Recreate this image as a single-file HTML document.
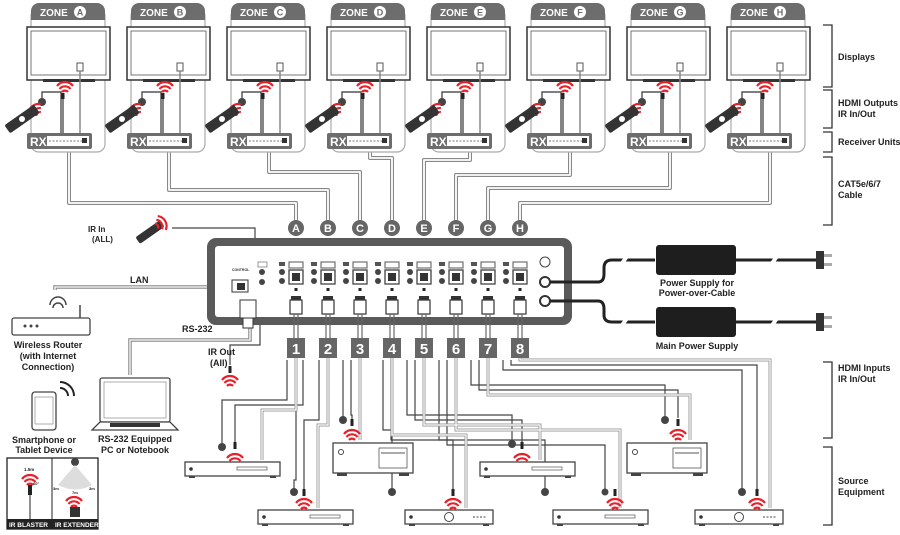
<!DOCTYPE html>
<html><head><meta charset="utf-8"><style>
html,body{margin:0;padding:0;background:#fff}
svg{display:block;font-family:"Liberation Sans",sans-serif;font-weight:bold}
</style></head><body>
<svg width="900" height="535" viewBox="0 0 900 535" xmlns="http://www.w3.org/2000/svg">
<defs>
<g id="wifi" fill="none" stroke="#e8202a" stroke-width="2.2">
<path d="M-8,-2 A10,10 0 0 1 8,-2"/><path d="M-5.5,1 A7,7 0 0 1 5.5,1"/><path d="M-3,4 A4,4 0 0 1 3,4"/>
</g>
<g id="zone">
<rect x="31" y="8" width="74" height="144" rx="8" fill="#fff" stroke="#aaa" stroke-width="1.2"/>
<path d="M31,20 V11 a8,8 0 0 1 8,-8 H97 a8,8 0 0 1 8,8 V20 Z" fill="#6d6d6d"/>
<rect x="27" y="27" width="83" height="53" fill="#fff" stroke="#333" stroke-width="1.5"/>
<rect x="31" y="31" width="75" height="44" fill="#fff" stroke="#555" stroke-width="0.8"/>
<rect x="43" y="79" width="52" height="3" fill="#333"/>
<rect x="77" y="63" width="6" height="8" fill="#fff" stroke="#555"/>
<line x1="80" y1="71" x2="80" y2="135" stroke="#888" stroke-width="1.5"/>
<use href="#wifi" x="65" y="88"/>
<path d="M42,100 V92 H61 V135" fill="none" stroke="#333" stroke-width="1.2"/>
<line x1="63" y1="95" x2="63" y2="135" stroke="#333" stroke-width="1.2"/>
<rect x="61.5" y="93" width="3" height="6" fill="#222"/>
<circle cx="42" cy="102" r="4" fill="#444"/>
<use href="#wifi" x="36" y="111" transform="rotate(-40 36 111)"/>
<rect x="4" y="114" width="36" height="10" rx="2" fill="#333" transform="rotate(-35 22 119)"/>
<circle cx="22" cy="119" r="3" fill="#fff"/>
<rect x="27" y="133" width="65" height="16" rx="2" fill="#6d6d6d"/>
<text x="30" y="146" fill="#fff" font-size="12">RX</text>
<rect x="47" y="136" width="42" height="10" fill="#fff"/>
<line x1="49" y1="141" x2="87" y2="141" stroke="#777" stroke-dasharray="2,1.5"/>
<rect x="82" y="138" width="5" height="5" fill="#333"/>
</g>
<g id="port">
<rect x="-17" y="262" width="6" height="4" fill="#555"/>
<circle cx="-14" cy="272" r="3" fill="#444"/><circle cx="-14" cy="281" r="3" fill="#444"/>
<rect x="-7" y="262" width="14" height="6" fill="#fff" stroke="#555"/>
<rect x="-7" y="270" width="14" height="14" fill="#fff" stroke="#333" stroke-width="1.2"/>
<rect x="-4" y="273" width="8" height="8" fill="#333"/>
<rect x="-1.5" y="288" width="3" height="3" fill="#222"/>
<rect x="-5" y="296" width="10" height="4" fill="#333"/>
<rect x="-6" y="300" width="12" height="14" fill="#fff" stroke="#333" stroke-width="1.2"/>
<line x1="-2" y1="314" x2="-2" y2="338" stroke="#666" stroke-width="1.2"/>
<line x1="2" y1="314" x2="2" y2="338" stroke="#666" stroke-width="1.2"/>
</g>
<g id="emit"><rect x="-1.5" y="-6" width="3" height="7" fill="#222"/></g>
<g id="stb">
<rect x="0" y="0" width="95" height="14" fill="#fff" stroke="#444" stroke-width="1.3"/>
<circle cx="6" cy="7" r="1.8" fill="#333"/>
<rect x="52" y="5" width="30" height="3" fill="#fff" stroke="#555" stroke-width="0.7"/>
<rect x="4" y="14" width="6" height="2" fill="#444"/><rect x="85" y="14" width="6" height="2" fill="#444"/>
</g>
<g id="dvd">
<rect x="0" y="0" width="88" height="14" fill="#fff" stroke="#444" stroke-width="1.3"/>
<circle cx="6" cy="7" r="1.8" fill="#333"/><circle cx="44" cy="7" r="4.5" fill="#fff" stroke="#444"/>
<line x1="68" y1="7" x2="82" y2="7" stroke="#444" stroke-dasharray="2,1.5"/>
<rect x="4" y="14" width="6" height="2" fill="#444"/><rect x="78" y="14" width="6" height="2" fill="#444"/>
</g>
<g id="pc">
<rect x="0" y="0" width="80" height="30" fill="#fff" stroke="#444" stroke-width="1.3"/>
<circle cx="8" cy="9" r="2.5" fill="#fff" stroke="#444"/>
<rect x="46" y="5" width="28" height="20" fill="#fff" stroke="#555" stroke-width="0.8"/>
<line x1="48" y1="10" x2="72" y2="10" stroke="#555"/>
<rect x="4" y="30" width="10" height="3" fill="#444"/><rect x="66" y="30" width="10" height="3" fill="#444"/>
</g>
</defs>

<!-- CAT cables -->
<g fill="none" stroke-linejoin="round">
<g stroke="#888" stroke-width="4">
<path d="M69,150 V203 H296 V222"/><path d="M169,150 V190 H328 V222"/><path d="M269,150 V172 H360 V222"/>
<path d="M370,150 V158 H392 V222"/><path d="M470,150 V160 H424 V222"/><path d="M570,150 V175 H456 V222"/>
<path d="M670,150 V188 H488 V222"/><path d="M770,150 V203 H520 V222"/>
</g>
<g stroke="#fff" stroke-width="1.8">
<path d="M69,150 V203 H296 V222"/><path d="M169,150 V190 H328 V222"/><path d="M269,150 V172 H360 V222"/>
<path d="M370,150 V158 H392 V222"/><path d="M470,150 V160 H424 V222"/><path d="M570,150 V175 H456 V222"/>
<path d="M670,150 V188 H488 V222"/><path d="M770,150 V203 H520 V222"/>
</g>
</g>

<use href="#zone"/>
<use href="#zone" x="100"/><use href="#zone" x="200"/><use href="#zone" x="300"/>
<use href="#zone" x="400"/><use href="#zone" x="500"/><use href="#zone" x="600"/><use href="#zone" x="700"/>
<g fill="#fff" font-size="10">
<text x="40" y="16">ZONE</text><text x="140" y="16">ZONE</text><text x="240" y="16">ZONE</text><text x="340" y="16">ZONE</text>
<text x="440" y="16">ZONE</text><text x="540" y="16">ZONE</text><text x="640" y="16">ZONE</text><text x="740" y="16">ZONE</text>
</g>
<g fill="#fff"><circle cx="80" cy="12" r="6"/><circle cx="180" cy="12" r="6"/><circle cx="280" cy="12" r="6"/><circle cx="380" cy="12" r="6"/><circle cx="480" cy="12" r="6"/><circle cx="580" cy="12" r="6"/><circle cx="680" cy="12" r="6"/><circle cx="780" cy="12" r="6"/></g>
<g fill="#6d6d6d" font-size="9" text-anchor="middle">
<text x="80" y="15.5">A</text><text x="180" y="15.5">B</text><text x="280" y="15.5">C</text><text x="380" y="15.5">D</text><text x="480" y="15.5">E</text><text x="580" y="15.5">F</text><text x="680" y="15.5">G</text><text x="780" y="15.5">H</text>
</g>

<!-- Right brackets & labels -->
<g stroke="#333" stroke-width="1.3" fill="none">
<path d="M823,25 H832 V87 H823"/><path d="M823,90 H832 V128 H823"/><path d="M823,132 H832 V152 H823"/>
<path d="M823,157 H832 V225 H823"/><path d="M823,362 H832 V438 H823"/><path d="M823,447 H832 V525 H823"/>
</g>
<g font-size="9" fill="#222">
<text x="838" y="60">Displays</text>
<text x="838" y="106">HDMI Outputs</text><text x="838" y="117">IR In/Out</text>
<text x="838" y="145">Receiver Units</text>
<text x="838" y="187">CAT5e/6/7</text><text x="838" y="198">Cable</text>
<text x="838" y="371">HDMI Inputs</text><text x="838" y="382">IR In/Out</text>
<text x="838" y="484">Source</text><text x="838" y="495">Equipment</text>
</g>

<!-- Input wiring to sources -->
<g fill="none" stroke="#444" stroke-width="1.2">
<path d="M287,360 V400 H222 V445"/><path d="M296,358 V480 H294 V490"/><path d="M303,360 V405 H235 V442"/>
<path d="M319,360 V420 H304 V490"/>
<path d="M343,360 V418"/><path d="M351,360 V415 H352 V420"/>
<path d="M383,360 V430 H392 V490"/><path d="M391,360 V440 H453 V490"/>
<path d="M407,360 V415 H512 V442"/><path d="M415,360 V420 H522 V442"/>
<path d="M439,360 V440 H545 V490"/><path d="M447,360 V445 H605 V490"/>
<path d="M471,360 V385 H665 V418"/><path d="M479,360 V390 H678 V418"/>
<path d="M503,360 V370 H742 V490"/><path d="M511,360 V365 H757 V490"/>
</g>
<g fill="none" stroke="#999" stroke-width="3">
<path d="M296,358 V410 H262 V460"/><path d="M328,358 V425 H318 V508"/>
<path d="M360,358 V415 H360 V440"/><path d="M392,358 V435 H466 V508"/>
<path d="M424,358 V425 H540 V460"/><path d="M456,358 V430 H620 V508"/>
<path d="M488,358 V395 H690 V440"/><path d="M520,358 V360 H770 V508"/>
</g>
<g fill="none" stroke="#fff" stroke-width="1.2">
<path d="M296,358 V410 H262 V460"/><path d="M328,358 V425 H318 V508"/>
<path d="M360,358 V415 H360 V440"/><path d="M392,358 V435 H466 V508"/>
<path d="M424,358 V425 H540 V460"/><path d="M456,358 V430 H620 V508"/>
<path d="M488,358 V395 H690 V440"/><path d="M520,358 V360 H770 V508"/>
</g>
<!-- IR eyes/emitters at sources -->
<g fill="#444"><circle cx="222" cy="447" r="4"/><circle cx="294" cy="492" r="4"/><circle cx="343" cy="420" r="4"/><circle cx="392" cy="492" r="4"/><circle cx="512" cy="444" r="4"/><circle cx="545" cy="492" r="4"/><circle cx="665" cy="420" r="4"/><circle cx="742" cy="492" r="4"/><circle cx="605" cy="492" r="3.5"/></g>
<use href="#emit" x="235" y="448"/><use href="#emit" x="304" y="495"/><use href="#emit" x="352" y="425"/><use href="#emit" x="453" y="495"/>
<use href="#emit" x="522" y="448"/><use href="#emit" x="615" y="495"/><use href="#emit" x="678" y="425"/><use href="#emit" x="757" y="495"/>
<use href="#wifi" x="235" y="460"/><use href="#wifi" x="304" y="505"/><use href="#wifi" x="352" y="436"/><use href="#wifi" x="453" y="505"/>
<use href="#wifi" x="522" y="460"/><use href="#wifi" x="615" y="505"/><use href="#wifi" x="678" y="436"/><use href="#wifi" x="757" y="505"/>
<use href="#stb" x="185" y="462"/><use href="#stb" x="480" y="462"/>
<use href="#pc" x="333" y="443"/><use href="#pc" x="627" y="443"/>
<use href="#stb" x="258" y="510"/><use href="#dvd" x="405" y="510"/><use href="#stb" x="553" y="510"/><use href="#dvd" x="695" y="510"/>

<!-- Left side wiring -->
<g fill="none" stroke="#444" stroke-width="1.2">
<path d="M172,228 H255 V258"/><path d="M260,262 V345 H230 V365"/>
</g>
<g fill="none" stroke="#888" stroke-width="3.5"><path d="M55,290 V287 H232"/><path d="M130,375 V340 H250 V320"/></g>
<g fill="none" stroke="#fff" stroke-width="1.3"><path d="M55,290 V287 H232"/><path d="M130,375 V340 H250 V320"/></g>

<!-- Main unit -->
<rect x="207" y="238" width="365" height="87" rx="9" fill="#5a5a5a"/>
<rect x="215" y="246" width="349" height="71" rx="3" fill="#fff"/>
<text x="232" y="271" font-size="3.5" fill="#333">CONTROL</text>
<rect x="232" y="280" width="16" height="12" fill="#fff" stroke="#333"/><rect x="237" y="283" width="8" height="7" fill="#333"/>
<rect x="240" y="300" width="16" height="18" fill="#fff" stroke="#333"/><rect x="243" y="318" width="10" height="10" fill="#fff" stroke="#333"/>
<rect x="258" y="262" width="9" height="5" fill="#fff" stroke="#555" stroke-width="0.6"/>
<circle cx="262" cy="272" r="3" fill="#444"/><circle cx="262" cy="282" r="3" fill="#444"/>
<use href="#port" x="296"/><use href="#port" x="328"/><use href="#port" x="360"/><use href="#port" x="392"/>
<use href="#port" x="424"/><use href="#port" x="456"/><use href="#port" x="488"/><use href="#port" x="520"/>
<circle cx="545" cy="262" r="5" fill="#fff" stroke="#444"/>
<circle cx="545" cy="282" r="5" fill="#fff" stroke="#333" stroke-width="2"/>
<circle cx="545" cy="301" r="5" fill="#fff" stroke="#333" stroke-width="2"/>
<g fill="#666"><circle cx="296" cy="228" r="8"/><circle cx="328" cy="228" r="8"/><circle cx="360" cy="228" r="8"/><circle cx="392" cy="228" r="8"/><circle cx="424" cy="228" r="8"/><circle cx="456" cy="228" r="8"/><circle cx="488" cy="228" r="8"/><circle cx="520" cy="228" r="8"/></g>
<g fill="#fff" font-size="11" text-anchor="middle">
<text x="296" y="232">A</text><text x="328" y="232">B</text><text x="360" y="232">C</text><text x="392" y="232">D</text><text x="424" y="232">E</text><text x="456" y="232">F</text><text x="488" y="232">G</text><text x="520" y="232">H</text>
</g>
<g fill="#666"><rect x="287" y="338" width="18" height="20"/><rect x="319" y="338" width="18" height="20"/><rect x="351" y="338" width="18" height="20"/><rect x="383" y="338" width="18" height="20"/><rect x="415" y="338" width="18" height="20"/><rect x="447" y="338" width="18" height="20"/><rect x="479" y="338" width="18" height="20"/><rect x="511" y="338" width="18" height="20"/></g>
<g fill="#fff" font-size="15" text-anchor="middle">
<text x="296" y="354">1</text><text x="328" y="354">2</text><text x="360" y="354">3</text><text x="392" y="354">4</text><text x="424" y="354">5</text><text x="456" y="354">6</text><text x="488" y="354">7</text><text x="520" y="354">8</text>
</g>

<!-- Power -->
<g fill="none" stroke="#222" stroke-width="3">
<path d="M550,282 H598 Q604,282 604,274 V268 Q604,260 612,260 H655"/>
<path d="M550,301 H598 Q604,301 604,309 V315 Q604,322 612,322 H655"/>
<path d="M735,260 H818"/><path d="M735,322 H818"/>
</g>
<g stroke="#fff" stroke-width="4"><line x1="620" y1="266" x2="628" y2="255"/><line x1="620" y1="328" x2="628" y2="317"/><line x1="770" y1="266" x2="778" y2="255"/><line x1="770" y1="328" x2="778" y2="317"/></g>
<rect x="656" y="245" width="80" height="30" rx="3" fill="#1e1e1e"/>
<rect x="656" y="307" width="80" height="30" rx="3" fill="#1e1e1e"/>
<rect x="816" y="251" width="8" height="18" fill="#333"/><rect x="816" y="313" width="8" height="18" fill="#333"/>
<g fill="#aaa"><rect x="824" y="254" width="8" height="3"/><rect x="824" y="263" width="8" height="3"/><rect x="824" y="316" width="8" height="3"/><rect x="824" y="325" width="8" height="3"/></g>
<g font-size="9" fill="#222" text-anchor="middle">
<text x="697" y="286">Power Supply for</text><text x="697" y="296">Power-over-Cable</text>
<text x="697" y="349">Main Power Supply</text>
</g>

<!-- Left devices -->
<rect x="135" y="228" width="30" height="8" rx="2" fill="#333" transform="rotate(-35 150 232)"/>
<use href="#wifi" x="160" y="224" transform="rotate(60 160 224)"/>
<text x="88" y="232" font-size="8" fill="#222">IR In</text><text x="92" y="242" font-size="8" fill="#222">(ALL)</text>
<text x="130" y="283" font-size="9" fill="#222">LAN</text>
<text x="182" y="332" font-size="9" fill="#222">RS-232</text>
<text x="208" y="355" font-size="9" fill="#222">IR Out</text><text x="210" y="366" font-size="9" fill="#222">(All)</text>
<use href="#emit" x="230" y="372"/><use href="#wifi" x="230" y="382"/>
<rect x="12" y="318" width="78" height="17" rx="2" fill="#fff" stroke="#444" stroke-width="1.3"/>
<g fill="#444"><circle cx="25" cy="326" r="1.5"/><circle cx="31" cy="326" r="1.5"/><circle cx="37" cy="326" r="1.5"/></g>
<line x1="80" y1="318" x2="80" y2="305" stroke="#444" stroke-width="1.5"/>
<path d="M50,305 a8,8 0 0 1 16,0 M53,308 a5,5 0 0 1 10,0" fill="none" stroke="#444" stroke-width="1.5"/>
<g font-size="9" fill="#222" text-anchor="middle"><text x="48" y="348">Wireless Router</text><text x="48" y="359">(with Internet</text><text x="48" y="370">Connection)</text></g>
<rect x="32" y="392" width="24" height="38" rx="3" fill="#fff" stroke="#444" stroke-width="1.3"/>
<rect x="35" y="397" width="18" height="27" fill="#fff" stroke="#777" stroke-width="0.6"/>
<path d="M60,388 a8,8 0 0 1 8,8 M60,382 a14,14 0 0 1 14,14" fill="none" stroke="#222" stroke-width="2"/>
<g font-size="9" fill="#222" text-anchor="middle"><text x="44" y="443">Smartphone or</text><text x="44" y="453">Tablet Device</text></g>
<rect x="100" y="378" width="70" height="44" rx="2" fill="#fff" stroke="#444" stroke-width="1.3"/>
<rect x="104" y="382" width="62" height="36" fill="#fff" stroke="#777" stroke-width="0.6"/>
<path d="M92,430 L100,422 H170 L178,430 Z" fill="#fff" stroke="#444" stroke-width="1.3"/>
<rect x="110" y="423" width="50" height="4" fill="#333"/>
<g font-size="9" fill="#222" text-anchor="middle"><text x="135" y="442">RS-232 Equipped</text><text x="135" y="453">PC or Notebook</text></g>
<rect x="7" y="458" width="91" height="71" fill="#fff" stroke="#222" stroke-width="1.3"/>
<line x1="52" y1="458" x2="52" y2="529" stroke="#222"/>
<rect x="7" y="519" width="91" height="10" fill="#222"/>
<text x="9" y="527" font-size="6.5" fill="#fff">IR BLASTER</text><text x="55" y="527" font-size="6.5" fill="#fff">IR EXTENDER</text>
<text x="24" y="471" font-size="4.5" fill="#222">1.5m</text><use href="#wifi" x="30" y="481"/><text x="33" y="485" font-size="4" fill="#222">60°</text>
<rect x="28" y="485" width="4" height="10" fill="#222"/><line x1="30" y1="495" x2="30" y2="519" stroke="#222"/>
<circle cx="75" cy="462" r="4" fill="#444"/>
<path d="M75,465 L58,485 Q75,494 92,485 Z" fill="#ddd"/>
<text x="53" y="490" font-size="4" fill="#222">3m</text><text x="89" y="490" font-size="4" fill="#222">3m</text><text x="72" y="494" font-size="4" fill="#222">7m</text>
<use href="#wifi" x="74" y="503"/><rect x="70" y="507" width="10" height="10" fill="#333"/>
</svg>
</body></html>
